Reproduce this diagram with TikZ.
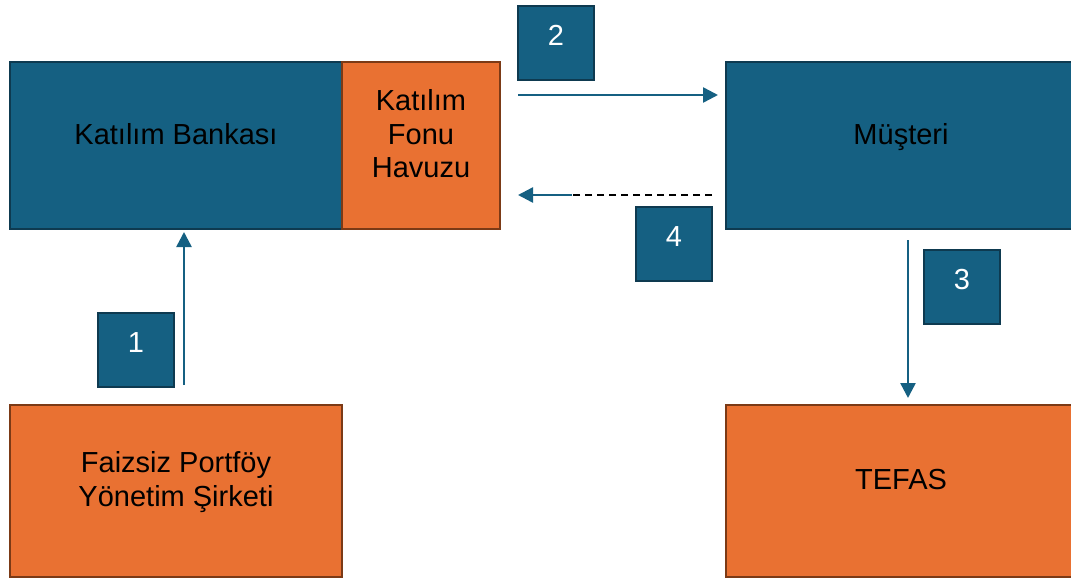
\documentclass[tikz,border=0pt]{standalone}
\usepackage{fontspec}
\setmainfont{Liberation Sans}
\usetikzlibrary{arrows.meta,positioning}
\definecolor{bankblue}{HTML}{156082}
\definecolor{blueedge}{HTML}{0E3A50}
\definecolor{fundorange}{HTML}{E97132}
\definecolor{orangeedge}{HTML}{7B3A16}
\tikzset{bluebox/.style={draw=blueedge,fill=bankblue,line width=2pt,inner sep=0pt,outer sep=0pt,align=center,text depth=24pt},orangebox/.style={draw=orangeedge,fill=fundorange,line width=2pt,inner sep=0pt,outer sep=0pt,align=center,text depth=24pt},numbox/.style={bluebox,text=white,minimum width=76pt,minimum height=74pt,text depth=14pt},flow/.style={-{Triangle[length=15pt,width=15pt]},line width=2.5pt,draw=bankblue},back/.style={line width=2pt,dash pattern=on 7pt off 5pt},big/.style={font=\fontsize{29}{33.5}\selectfont}}

\begin{document}
\begin{tikzpicture}[x=1pt,y=-1pt,big]
\useasboundingbox (0,0) rectangle (1071,581);
\node[bluebox,minimum width=332pt,minimum height=167pt] (bank) at (176,145.5) {Katılım Bankası};
\node[orangebox,minimum width=158pt,minimum height=167pt,right=0pt of bank] (pool) {Katılım\\Fonu\\Havuzu};
\node[bluebox,minimum width=350pt,minimum height=167pt] (client) at (901,145.5) {Müşteri};
\node[orangebox,minimum width=332pt,minimum height=172pt] (firm) at (176,491) {Faizsiz Portföy\\Yönetim Şirketi};
\node[orangebox,minimum width=350pt,minimum height=172pt] (tefas) at (901,491) {TEFAS};
\node[numbox] (n1) at (136,350) {1};
\node[numbox] (n2) at (556,42.5) {2};
\node[numbox] (n3) at (962,286.5) {3};
\node[numbox] (n4) at (674,243.5) {4};
% connector ends
\coordinate (a1) at (184,0);
\coordinate (a2) at (518,95);
\coordinate (a3) at (908,0);
\coordinate (a4) at (518,195);
\coordinate (a4m) at (572,195);
\draw[flow,shorten <=20pt,shorten >=3pt] (firm.north -| a1) -- (bank.south -| a1);
\draw[flow,shorten >=8pt] (a2) -- (a2 -| client.west);
\draw[flow,shorten <=11pt,shorten >=7pt] (client.south -| a3) -- (tefas.north -| a3);
\draw[back,shorten <=14pt] (a4m -| client.west) -- (a4m);
\draw[flow] (a4m) -- (a4);
\end{tikzpicture}
\end{document}
